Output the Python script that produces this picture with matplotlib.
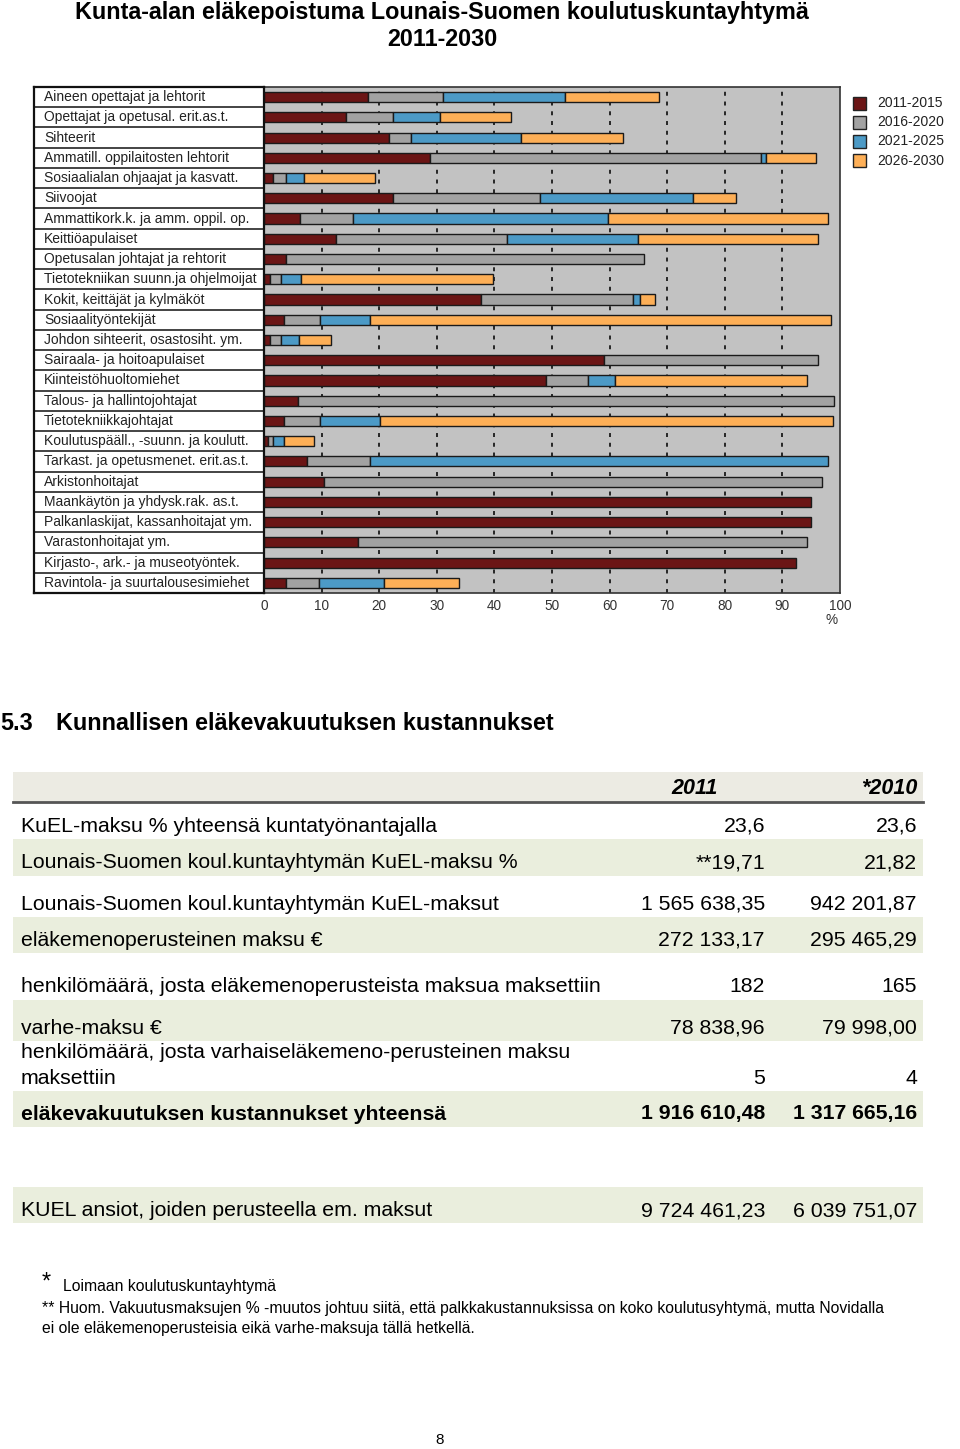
import numpy as np
import matplotlib
matplotlib.use("Agg")
import matplotlib.pyplot as plt
from matplotlib.patches import Rectangle

plt.rcParams['font.family'] = ['Liberation Sans', 'DejaVu Sans']

# -----------------------------
# Data: retirement share per period (% of staff)
# -----------------------------
groups = [
    "Aineen opettajat ja lehtorit",
    "Opettajat ja opetusal. erit.as.t.",
    "Sihteerit",
    "Ammatill. oppilaitosten lehtorit",
    "Sosiaalialan ohjaajat ja kasvatt.",
    "Siivoojat",
    "Ammattikork.k. ja amm. oppil. op.",
    "Keittiöapulaiset",
    "Opetusalan johtajat ja rehtorit",
    "Tietotekniikan suunn.ja ohjelmoijat",
    "Kokit, keittäjät ja kylmäköt",
    "Sosiaalityöntekijät",
    "Johdon sihteerit, osastosiht. ym.",
    "Sairaala- ja hoitoapulaiset",
    "Kiinteistöhuoltomiehet",
    "Talous- ja hallintojohtajat",
    "Tietotekniikkajohtajat",
    "Koulutuspääll., -suunn. ja koulutt.",
    "Tarkast. ja opetusmenet. erit.as.t.",
    "Arkistonhoitajat",
    "Maankäytön ja yhdysk.rak. as.t.",
    "Palkanlaskijat, kassanhoitajat ym.",
    "Varastonhoitajat ym.",
    "Kirjasto-, ark.- ja museotyöntek.",
    "Ravintola- ja suurtalousesimiehet",
]
p2011_2015 = [18.0, 14.2, 21.7, 28.9, 1.5, 22.4, 6.2, 12.5, 3.9, 1.0, 37.7, 3.5, 1.0,
              59.0, 48.9, 5.9, 3.5, 0.7, 7.4, 10.5, 95.0, 95.0, 16.3, 92.4, 3.8]
p2016_2020 = [13.1, 8.2, 3.8, 57.4, 2.4, 25.6, 9.3, 29.7, 62.1, 1.9, 26.3, 6.2, 2.0,
              37.1, 7.4, 93.1, 6.2, 0.9, 11.0, 86.3, 0.0, 0.0, 78.0, 0.0, 5.7]
p2021_2025 = [21.1, 8.1, 19.2, 0.9, 3.0, 26.5, 44.2, 22.7, 0.0, 3.6, 1.3, 8.7, 3.1,
              0.0, 4.7, 0.0, 10.4, 1.9, 79.6, 0.0, 0.0, 0.0, 0.0, 0.0, 11.3]
p2026_2030 = [16.4, 12.4, 17.6, 8.7, 12.3, 7.5, 38.3, 31.2, 0.0, 33.2, 2.5, 80.1, 5.5,
              0.0, 33.3, 0.0, 78.6, 5.1, 0.0, 0.0, 0.0, 0.0, 0.0, 0.0, 13.0]
periods = ["2011-2015", "2016-2020", "2021-2025", "2026-2030"]
colors = ['#6B1515', '#A2A2A2', '#4C9AC6', '#FDAF57']

# -----------------------------
# Data: pension cost table
# -----------------------------
col_years = ["2011", "*2010"]
row_labels = [
    "KuEL-maksu % yhteensä kuntatyönantajalla",
    "Lounais-Suomen koul.kuntayhtymän KuEL-maksu %",
    "Lounais-Suomen koul.kuntayhtymän KuEL-maksut",
    "eläkemenoperusteinen maksu €",
    "henkilömäärä, josta eläkemenoperusteista maksua maksettiin",
    "varhe-maksu €",
    "henkilömäärä, josta varhaiseläkemeno-perusteinen maksu\nmaksettiin",
    "eläkevakuutuksen kustannukset yhteensä",
    "KUEL ansiot, joiden perusteella em. maksut",
]
vals_2011 = ["23,6", "**19,71", "1 565 638,35", "272 133,17", "182", "78 838,96", "5",
             "1 916 610,48", "9 724 461,23"]
vals_2010 = ["23,6", "21,82", "942 201,87", "295 465,29", "165", "79 998,00", "4",
             "1 317 665,16", "6 039 751,07"]

W, H = 960, 1449
fig = plt.figure(figsize=(W / 100, H / 100), dpi=100)

# page axes in pixel coordinates for the text layout
page = fig.add_axes([0, 0, 1, 1])
page.set_xlim(0, W)
page.set_ylim(H, 0)
page.axis('off')


def px_axes(x0, y0, x1, y1):
    return fig.add_axes([x0 / W, 1 - y1 / H, (x1 - x0) / W, (y1 - y0) / H])


# =============================
# Title
# =============================
page.text(442, 13, "Kunta-alan eläkepoistuma Lounais-Suomen koulutuskuntayhtymä",
          ha='center', va='center', fontsize=16.8, fontweight='bold')
page.text(442, 39, "2011-2030", ha='center', va='center', fontsize=16.8, fontweight='bold')

# =============================
# Bar chart
# =============================
n = len(groups)
ypos = np.arange(n)

ax = px_axes(264, 87, 840, 593)
ax.set_facecolor('#C2C2C2')
for v in range(10, 100, 10):
    ax.axvline(v, color='#1a1a1a', lw=1.3, ls=(0, (2.2, 3.2)), zorder=1)

left = np.zeros(n)
for vals, c in zip([p2011_2015, p2016_2020, p2021_2025, p2026_2030], colors):
    vals = np.array(vals)
    mask = vals > 0
    ax.barh(ypos[mask], vals[mask], left=left[mask], height=0.5, color=c,
            edgecolor='#1a1a1a', linewidth=1.0, zorder=2)
    left += vals

ax.set_xlim(0, 100)
ax.set_ylim(n - 0.5, -0.5)
ax.set_yticks([])
ax.set_xticks(range(0, 101, 10))
ax.tick_params(axis='x', length=0, pad=4, labelsize=9.8, labelcolor='#333333')
for s in ax.spines.values():
    s.set_color('#333333')
    s.set_linewidth(1.2)
page.text(832, 620, "%", ha='center', va='center', fontsize=9.8, color='#333333')

# label table to the left of the bars
lab = px_axes(34, 87, 264, 593)
lab.set_xlim(0, 1)
lab.set_ylim(n - 0.5, -0.5)
lab.set_xticks([])
lab.set_yticks([])
for i, g in enumerate(groups):
    lab.text(0.043, i, g, va='center', ha='left', fontsize=10, color='#222222')
    if i > 0:
        lab.axhline(i - 0.5, color='#111111', lw=1.1)
for s in lab.spines.values():
    s.set_color('#111111')
    s.set_linewidth(1.6)

# legend
for k, (p, c) in enumerate(zip(periods, colors)):
    yc = 103 + k * 19.2
    page.add_patch(Rectangle((853, yc - 6.5), 13, 13, facecolor=c, edgecolor='#222222', lw=1.0))
    page.text(877, yc, p, va='center', ha='left', fontsize=10, color='#222222')

# =============================
# Cost table
# =============================
page.text(0, 724, "5.3", ha='left', va='center', fontsize=16.8, fontweight='bold')
page.text(56, 724, "Kunnallisen eläkevakuutuksen kustannukset", ha='left', va='center',
          fontsize=16.8, fontweight='bold')

band = '#EAEEDD'
page.add_patch(Rectangle((13, 772), 910, 30, facecolor='#ECEBE3', edgecolor='none'))
page.plot([13, 923], [802, 802], color='#555555', lw=2)
page.text(718, 789, col_years[0], ha='right', va='center', fontsize=15.5,
          fontweight='bold', style='italic')
page.text(917, 789, col_years[1], ha='right', va='center', fontsize=15.5,
          fontweight='bold', style='italic')

fs = 15.3
row_y = [826, 863, 904, 940, 987, 1028, 1078, 1114, 1211]
row_band = [None, (839, 876), None, (917, 953), None, (1000, 1041), None, (1091, 1127),
            (1187, 1223)]
for i, (lbl, a, b) in enumerate(zip(row_labels, vals_2011, vals_2010)):
    y = row_y[i]
    if row_band[i] is not None:
        y0, y1 = row_band[i]
        page.add_patch(Rectangle((13, y0), 910, y1 - y0, facecolor=band, edgecolor='none'))
    fw = 'bold' if i == 7 else 'normal'
    if "\n" in lbl:
        first, second = lbl.split("\n")
        page.text(21, y - 25, first, ha='left', va='center', fontsize=fs, fontweight=fw)
        page.text(21, y, second, ha='left', va='center', fontsize=fs, fontweight=fw)
    else:
        page.text(21, y, lbl, ha='left', va='center', fontsize=fs, fontweight=fw)
    page.text(765, y, a, ha='right', va='center', fontsize=fs, fontweight=fw)
    page.text(917, y, b, ha='right', va='center', fontsize=fs, fontweight=fw)

# footnotes
page.text(42, 1283, "*", ha='left', va='center', fontsize=17)
page.text(63, 1286, "Loimaan koulutuskuntayhtymä", ha='left', va='center', fontsize=11.3)
page.text(42, 1309, "** Huom. Vakuutusmaksujen % -muutos johtuu siitä, että palkkakustannuksissa "
          "on koko koulutusyhtymä, mutta Novidalla", ha='left', va='center', fontsize=11.3)
page.text(42, 1328, "ei ole eläkemenoperusteisia eikä varhe-maksuja tällä hetkellä.",
          ha='left', va='center', fontsize=11.3)

page.text(440, 1440, "8", ha='center', va='center', fontsize=11)

fig.savefig("out.png", dpi=100)
